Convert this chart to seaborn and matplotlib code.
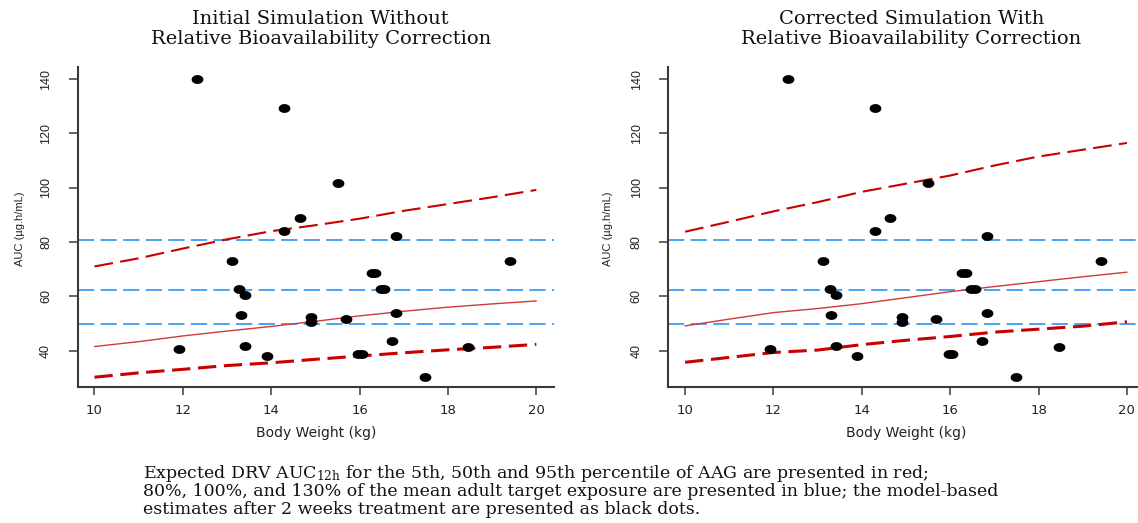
import numpy as np
import pandas as pd
import matplotlib
matplotlib.use("Agg")
import matplotlib.pyplot as plt
from matplotlib.markers import MarkerStyle
from matplotlib.path import Path
import seaborn as sns

# ---------------- data ----------------
weights = [10, 11, 12, 13, 14, 15, 16, 17, 18, 19, 20]

left_p95 = [71.0, 74.0, 77.6, 81.0, 84.0, 86.2, 88.6, 91.5, 94.0, 96.5, 99.2]
left_p50 = [41.5, 43.3, 45.4, 47.2, 48.9, 50.8, 52.8, 54.5, 56.0, 57.2, 58.3]
left_p5 = [30.2, 31.8, 33.1, 34.5, 35.5, 36.8, 38.0, 39.2, 40.3, 41.2, 42.3]

right_p95 = [83.8, 87.5, 91.3, 94.7, 98.5, 101.5, 104.5, 108.2, 111.5, 114.0, 116.5]
right_p50 = [49.1, 51.6, 54.0, 55.5, 57.3, 59.5, 61.7, 63.6, 65.4, 67.2, 68.9]
right_p5 = [35.7, 37.5, 39.3, 40.2, 42.2, 43.8, 45.2, 46.8, 47.9, 49.0, 50.6]

target_lines = [49.8, 62.3, 80.9]   # 80%, 100%, 130% of mean adult exposure

body_weight = [12.32, 14.29, 15.50, 14.64, 14.29, 16.83, 13.11, 19.41, 16.27, 16.35,
               16.48, 16.56, 13.28, 13.41, 13.31, 14.90, 14.90, 15.69, 16.83, 11.92,
               13.41, 13.90, 15.97, 16.05, 16.73, 18.46, 17.48]
auc_est = [140.0, 129.5, 101.8, 88.8, 83.9, 82.3, 73.0, 73.0, 68.5, 68.5,
           62.6, 62.6, 62.6, 60.5, 53.2, 52.2, 50.5, 51.7, 53.9, 40.6,
           41.7, 38.0, 38.7, 38.7, 43.6, 41.4, 30.4]

x_ticks = [10, 12, 14, 16, 18, 20]
y_ticks = [40, 60, 80, 100, 120, 140]

titles = [("Initial Simulation Without", "Relative Bioavailability Correction"),
          ("Corrected Simulation With", "Relative Bioavailability Correction")]
caption = [r"Expected DRV AUC$_{\mathregular{12h}}$ for the 5th, 50th and 95th percentile of AAG are presented in red;",
           "80%, 100%, and 130% of the mean adult target exposure are presented in blue; the model-based",
           "estimates after 2 weeks treatment are presented as black dots."]

# ---------------- style ----------------
sns.set_theme(style="white")
plt.rcParams["font.family"] = ["DejaVu Sans"]
plt.rcParams["mathtext.fontset"] = "dejavuserif"

W, H = 1138, 523
fig = plt.figure(figsize=(W / 100, H / 100), dpi=100)
fig.patch.set_facecolor("white")

# slightly wide ellipse marker (reference is horizontally stretched)
t = np.linspace(0, 2 * np.pi, 48)
ell = MarkerStyle(Path(np.column_stack([1.33 * np.cos(t), np.sin(t)]), closed=False))

RED = "#C80000"
RED_MID = "#D23A3A"
BLUE = "#3D9CF2"
SPINE = "#3a3a3a"

panels = [(77.7, 20.0, 320.8, left_p95, left_p50, left_p5),
          (668.3, 608.0, 911.6, right_p95, right_p50, right_p5)]
ax_top, ax_bot = 66.7, 386.7
ax_w = 476.3

for i, (x0, ylab_x, title_x, p95, p50, p5) in enumerate(panels):
    ax = fig.add_axes([x0 / W, 1 - ax_bot / H, ax_w / W, (ax_bot - ax_top) / H])
    ax.set_facecolor("white")

    for v in target_lines:
        ax.axhline(v, color=BLUE, lw=1.3, dashes=(9, 3.5), zorder=2)

    sns.lineplot(x=weights, y=p95, ax=ax, color=RED, lw=1.5, dashes=False,
                 linestyle=(0, (9, 3.5)), zorder=3)
    sns.lineplot(x=weights, y=p50, ax=ax, color=RED_MID, lw=1.0, zorder=3)
    sns.lineplot(x=weights, y=p5, ax=ax, color=RED, lw=2.2, dashes=False,
                 linestyle=(0, (6, 2.5)), zorder=3)

    sns.scatterplot(x=body_weight, y=auc_est, ax=ax, color="black", marker=ell,
                    s=72, linewidth=0, edgecolor="black", zorder=5)

    ax.set_xlim(9.62, 20.4)
    ax.set_ylim(26.7, 144.6)
    ax.set_xticks(x_ticks)
    ax.set_yticks(y_ticks)
    ax.set_xticklabels([str(v) for v in x_ticks], fontsize=9.5, family="DejaVu Sans", color="#222")
    ax.set_yticklabels([str(v) for v in y_ticks], fontsize=9, family="Liberation Sans",
                       rotation=90, va="center", color="#222")
    ax.tick_params(axis="x", length=5.5, width=1.1, color=SPINE, pad=7, direction="out", bottom=True)
    ax.tick_params(axis="y", length=6.5, width=1.1, color=SPINE, pad=12, direction="out", left=True)

    for side in ["top", "right"]:
        ax.spines[side].set_visible(False)
    for side in ["left", "bottom"]:
        ax.spines[side].set_color(SPINE)
        ax.spines[side].set_linewidth(1.5)

    ax.set_xlabel("Body Weight (kg)", fontsize=10, family="DejaVu Sans", color="#222", va="center")
    ax.xaxis.set_label_coords(0.5, (ax_bot - 433) / (ax_bot - ax_top))
    ax.set_ylabel("AUC (µg.h/mL)", fontsize=8, family="Liberation Sans", color="#222", va="center")
    ax.yaxis.set_label_coords((ylab_x - x0) / ax_w,
                              0.5 - (229 - (ax_top + ax_bot) / 2) / (ax_bot - ax_top))

    fig.text(title_x / W, 1 - 19 / H, titles[i][0], ha="center", va="center",
             fontsize=14, family="DejaVu Serif", color="#111")
    fig.text(title_x / W, 1 - 39.5 / H, titles[i][1], ha="center", va="center",
             fontsize=14, family="DejaVu Serif", color="#111")

for line, yy in zip(caption, [474, 492, 510]):
    fig.text(143 / W, 1 - yy / H, line, ha="left", va="center",
             fontsize=12.5, family="DejaVu Serif", color="#111")

fig.savefig("out.png", dpi=100, facecolor="white")
